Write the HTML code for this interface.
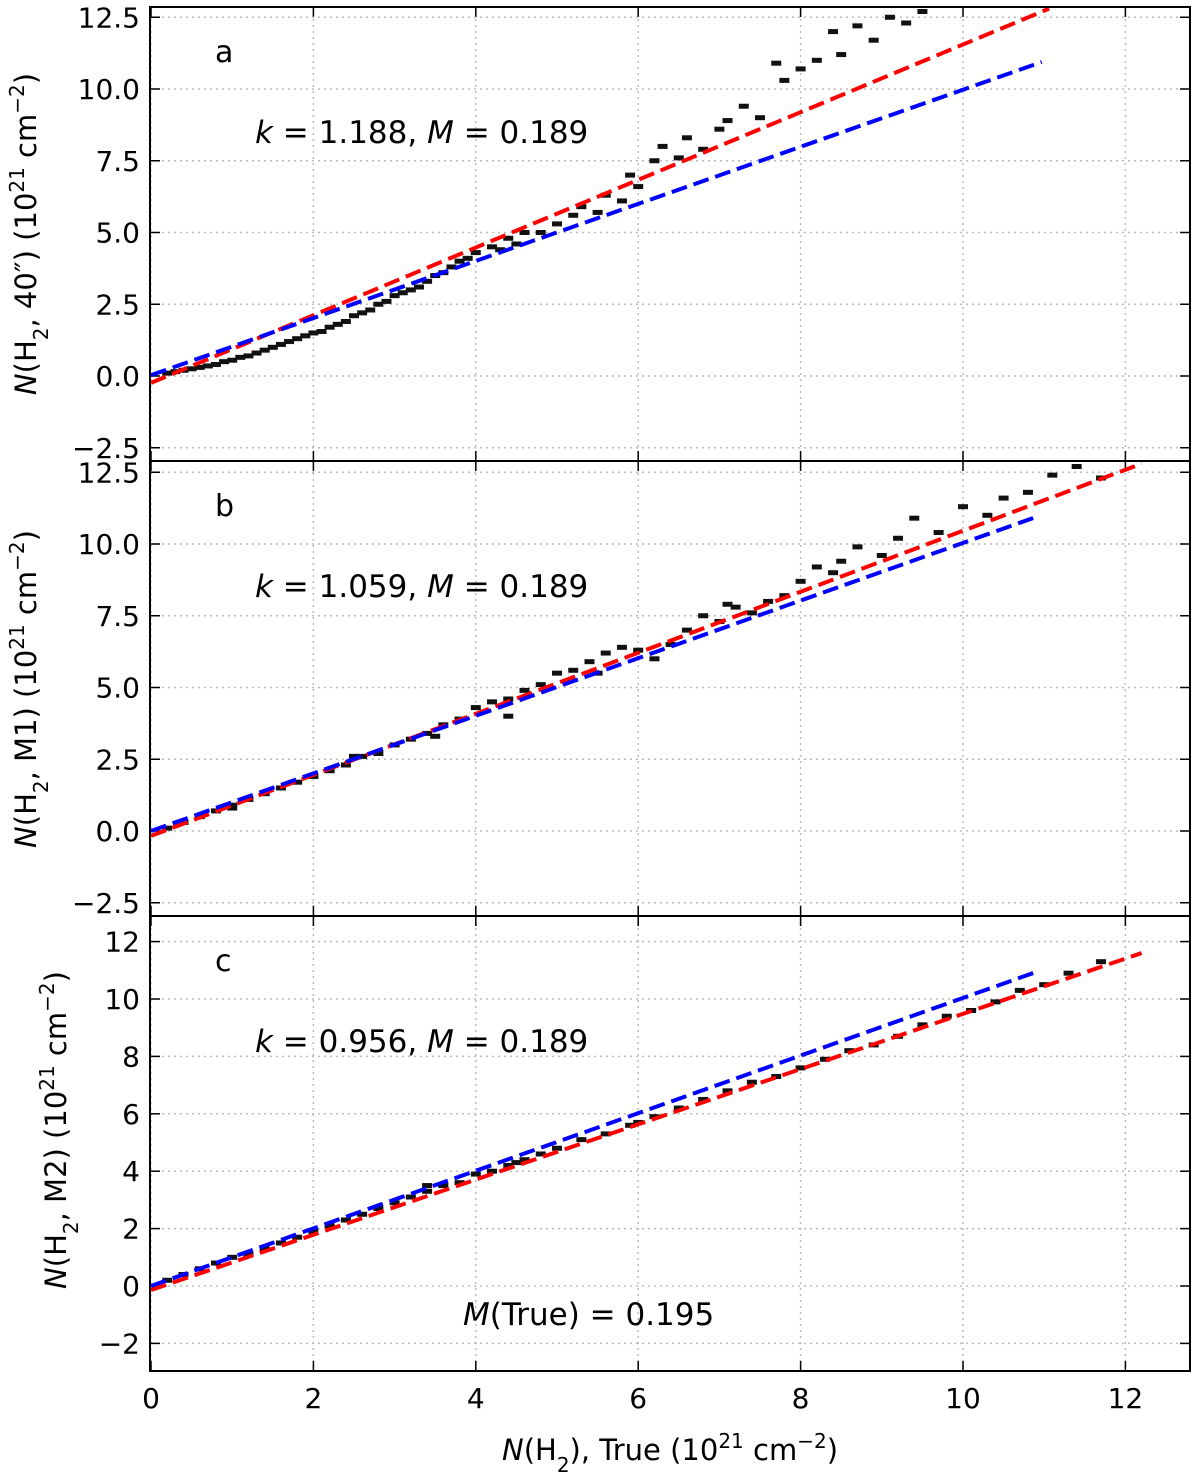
<!DOCTYPE html>
<html><head><meta charset="utf-8"><style>
body{margin:0;background:#fff}
svg text{font-family:"DejaVu Sans","Liberation Sans",sans-serif;fill:#000}
</style></head><body>
<svg id="chart" width="1200" height="1474" xmlns="http://www.w3.org/2000/svg"></svg>
<script>
const xTicks=[0,2,4,6,8,10,12];
const yTicksAB=["12.5","10.0","7.5","5.0","2.5","0.0","−2.5"];
const yTickValsAB=[12.5,10,7.5,5,2.5,0,-2.5];
const yTicksC=[12,10,8,6,4,2,0,-2];
const ptsAx=[0.2,0.3,0.4,0.5,0.6,0.7,0.8,0.9,1.0,1.1,1.2,1.3,1.4,1.5,1.6,1.7,1.8,1.9,2.0,2.1,2.2,2.3,2.4,2.5,2.6,2.7,2.8,2.9,3.0,3.1,3.2,3.3,3.4,3.5,3.6,3.7,3.8,3.9,4.0,4.2,4.3,4.4,4.5,4.6,4.8,5.0,5.2,5.3,5.5,5.6,5.8,5.9,6.0,6.2,6.3,6.5,6.6,6.8,7.0,7.1,7.3,7.5,7.7,7.8,8.0,8.2,8.4,8.5,8.7,8.9,9.1,9.3,9.5];
const ptsAy=[0.1,0.15,0.2,0.25,0.3,0.35,0.4,0.5,0.55,0.65,0.7,0.8,0.9,1.0,1.1,1.2,1.3,1.4,1.5,1.55,1.7,1.8,1.9,2.1,2.2,2.3,2.5,2.6,2.8,2.9,3.0,3.1,3.3,3.5,3.6,3.8,4.0,4.1,4.3,4.5,4.4,4.8,4.6,5.0,5.0,5.3,5.6,5.9,5.7,6.3,6.1,7.0,6.6,7.5,8.0,7.6,8.3,7.9,8.6,8.9,9.4,9.0,10.9,10.3,10.7,11.0,12.0,11.2,12.2,11.7,12.5,12.3,12.7];
const ptsBx=[0.2,0.4,0.6,0.8,1.0,1.2,1.4,1.6,1.8,2.0,2.2,2.4,2.6,2.8,3.0,3.2,3.4,3.6,3.8,4.0,4.2,4.4,4.6,4.8,5.0,5.2,5.4,5.6,5.8,6.0,6.2,6.4,6.6,6.8,7.0,7.2,7.4,7.6,7.8,8.0,8.2,8.4,8.7,9.0,9.2,9.4,9.7,10.0,10.3,10.5,10.8,11.1,11.4,11.7,4.4,5.5,8.5,2.5,1.0,3.5,7.1];
const ptsBy=[0.1,0.3,0.5,0.7,0.9,1.1,1.3,1.5,1.7,1.9,2.1,2.3,2.6,2.7,3.0,3.2,3.4,3.7,3.9,4.3,4.5,4.6,4.9,5.1,5.5,5.6,5.9,6.2,6.4,6.3,6.0,6.5,7.0,7.5,7.3,7.8,7.6,8.0,8.2,8.7,9.2,9.0,9.9,9.6,10.2,10.9,10.4,11.3,11.0,11.6,11.8,12.4,12.7,12.3,4.0,5.5,9.4,2.6,0.8,3.3,7.9];
const ptsCx=[0.2,0.4,0.6,0.8,1.0,1.2,1.4,1.6,1.8,2.0,2.2,2.4,2.6,2.8,3.0,3.2,3.4,3.6,3.8,4.0,4.2,4.4,4.6,4.8,5.0,5.3,5.6,5.9,6.2,6.5,6.8,7.1,7.4,7.7,8.0,8.3,8.6,8.9,9.2,9.5,9.8,10.1,10.4,10.7,11.0,11.3,11.7,3.4,4.5,6.0];
const ptsCy=[0.2,0.4,0.6,0.8,1.0,1.1,1.3,1.5,1.7,1.9,2.1,2.3,2.5,2.7,2.9,3.1,3.3,3.5,3.6,3.9,4.0,4.2,4.4,4.6,4.8,5.1,5.3,5.6,5.9,6.2,6.5,6.8,7.1,7.3,7.6,7.9,8.2,8.4,8.7,9.1,9.4,9.6,9.9,10.3,10.5,10.9,11.3,3.5,4.3,5.7];
const lineA={red:[[0,-0.24],[11.06,12.8]],blue:[[0,0.03],[10.97,10.94]]};
const lineB={red:[[0,-0.17],[12.2,12.8]],blue:[[0,0],[10.9,10.94]]};
const lineC={red:[[0,-0.14],[12.2,11.6]],blue:[[0,0],[10.9,10.94]]};

const NS="http://www.w3.org/2000/svg";
const svg=document.getElementById('chart');
const X0=151,PX=81.2,L=150,R=1190;
function sx(v){return X0+v*PX;}
function mk(tag,attrs,parent){const e=document.createElementNS(NS,tag);for(const k in attrs)e.setAttribute(k,attrs[k]);(parent||svg).appendChild(e);return e;}

const panels=[
 {top:7,bot:461,y0:376,yt:yTickValsAB,yl:yTicksAB,px:ptsAx,py:ptsAy,ln:lineA,lab:"a",k:"1.188"},
 {top:461,bot:916,y0:831,yt:yTickValsAB,yl:yTicksAB,px:ptsBx,py:ptsBy,ln:lineB,lab:"b",k:"1.059"},
 {top:916,bot:1371,y0:1286,yt:yTicksC,yl:yTicksC.map(v=>v<0?"−"+(-v):""+v),px:ptsCx,py:ptsCy,ln:lineC,lab:"c",k:"0.956"}
];
const SY=28.7;
panels.forEach((p,i)=>{
 const sy=v=>p.y0-v*SY;
 const g=mk('g',{});
 
 
 xTicks.forEach(t=>{const l=mk('line',{x1:sx(t),x2:sx(t),y1:p.top,y2:p.bot,stroke:'#bbb','stroke-width':1.5,'stroke-dasharray':'2,4'},g);
  
  mk('line',{x1:sx(t),x2:sx(t),y1:p.bot,y2:p.bot-10,stroke:'#000','stroke-width':1.5},g);
  mk('line',{x1:sx(t),x2:sx(t),y1:p.top,y2:p.top+10,stroke:'#000','stroke-width':1.5},g);});
 p.yt.forEach((t,j)=>{const y=sy(t);
  const l=mk('line',{x1:L,x2:R,y1:y,y2:y,stroke:'#bbb','stroke-width':1.5,'stroke-dasharray':'2,4'},g);
  
  mk('line',{x1:L,x2:L+10,y1:y,y2:y,stroke:'#000','stroke-width':1.5},g);
  mk('line',{x1:R,x2:R-10,y1:y,y2:y,stroke:'#000','stroke-width':1.5},g);
  const tx=mk('text',{x:140,y:y+10,'text-anchor':'end','font-size':28},g);tx.textContent=p.yl[j];
  
 });
 const cp=mk('clipPath',{id:'cp'+i},g);mk('rect',{x:L,y:p.top,width:R-L,height:p.bot-p.top},cp);
 const pg=mk('g',{'clip-path':'url(#cp'+i+')'},g);
 p.px.forEach((v,j)=>{const r=mk('rect',{x:sx(v)-5,y:sy(p.py[j])-2.5,width:10,height:5,fill:'#111'},pg);
  });
 [['red','#f00'],['blue','#00f']].forEach(([k,c])=>{const s=p.ln[k];
  const l=mk('line',{x1:sx(s[0][0]),y1:sy(s[0][1]),x2:sx(s[1][0]),y2:sy(s[1][1]),stroke:c,'stroke-width':4,'stroke-dasharray':'16,7'},pg);
  });
 const fr=mk('rect',{x:L,y:p.top,width:R-L,height:p.bot-p.top,fill:'none',stroke:'#000','stroke-width':2},g);
 
 const pl=mk('text',{x:215,y:p.top+55,'font-size':30},g);pl.textContent=p.lab;
 
 const kt=mk('text',{x:255,y:p.top+136,'font-size':31},g);
 kt.innerHTML='<tspan font-style="italic">k</tspan> = '+p.k+',  <tspan font-style="italic">M</tspan> = 0.189';
 
});
const yl=[["ylabel-a",234,'(H<tspan baseline-shift="sub" font-size="20">2</tspan>,  40″) (10<tspan baseline-shift="super" font-size="20">21</tspan> cm<tspan baseline-shift="super" font-size="20">−2</tspan>)',36],
["ylabel-b",689,'(H<tspan baseline-shift="sub" font-size="20">2</tspan>,  M1) (10<tspan baseline-shift="super" font-size="20">21</tspan> cm<tspan baseline-shift="super" font-size="20">−2</tspan>)',36],
["ylabel-c",1130,'(H<tspan baseline-shift="sub" font-size="20">2</tspan>,  M2) (10<tspan baseline-shift="super" font-size="20">21</tspan> cm<tspan baseline-shift="super" font-size="20">−2</tspan>)',66]];
yl.forEach(a=>{const t=mk('text',{x:0,y:0,'font-size':29,'text-anchor':'middle',transform:'translate('+a[3]+','+a[1]+') rotate(-90)'});
 t.innerHTML='<tspan font-style="italic">N</tspan>'+a[2];
 });
xTicks.forEach(t=>{const tx=mk('text',{x:sx(t),y:1408,'text-anchor':'middle','font-size':28});tx.textContent=t;
 });
const xl=mk('text',{x:670,y:1460,'text-anchor':'middle','font-size':29});
xl.innerHTML='<tspan font-style="italic">N</tspan>(H<tspan baseline-shift="sub" font-size="20">2</tspan>),  True (10<tspan baseline-shift="super" font-size="20">21</tspan> cm<tspan baseline-shift="super" font-size="20">−2</tspan>)';

const mt=mk('text',{x:463,y:1325,'font-size':31});
mt.innerHTML='<tspan font-style="italic">M</tspan>(True) = 0.195';

</script>
</body></html>
